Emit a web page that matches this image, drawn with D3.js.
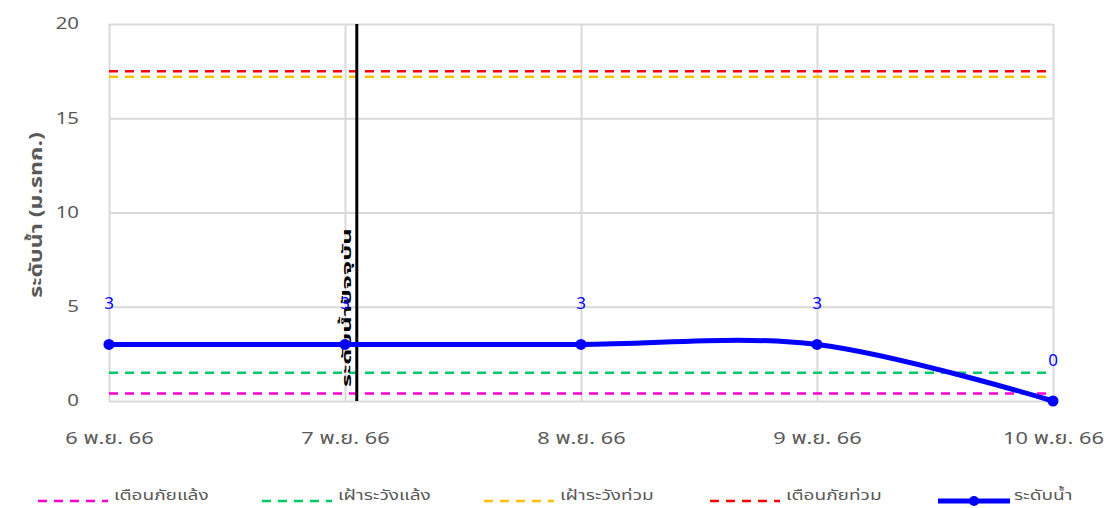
<!DOCTYPE html>
<html><head><meta charset="utf-8">
<script src="https://cdn.jsdelivr.net/npm/d3@7"></script>
<style>
body{margin:0;background:#fff}
svg{display:block}
text{font-family: Tahoma, "Noto Sans Thai", "Noto Sans Thai UI", "Noto Sans", "DejaVu Sans", sans-serif;}
</style>
</head><body>
<svg id="c" width="1107" height="508"></svg>
<script>
// ---- data ----
const dates = ["6 พ.ย. 66", "7 พ.ย. 66", "8 พ.ย. 66", "9 พ.ย. 66", "10 พ.ย. 66"];
const waterLevel = [3, 3, 3, 3, 0];
const waterLabels = ["3", "3", "3", "3", "0"];
const thresholdNames = ["เตือนภัยแล้ง", "เฝ้าระวังแล้ง", "เฝ้าระวังท่วม", "เตือนภัยท่วม"];
const thresholdValues = [0.4, 1.5, 17.2, 17.5];
const seriesName = "ระดับน้ำ";
const yTicks = [0, 5, 10, 15, 20];
const yTitle = "ระดับน้ำ (ม.รทก.)";
const currentIndex = 1.05;
const currentLabel = "ระดับน้ำปัจจุบัน";

// ---- styles ----
const thresholdColors = ["#ff00cc", "#00c864", "#ffc000", "#ff0000"];
const blue = "#0000ff";
const gray = "#595959";
const grid = "#d9d9d9";
const STRETCH = 1.28;

function stretch(sel, f) {
  sel.each(function () {
    const L = this.getComputedTextLength();
    d3.select(this).attr("textLength", L * f).attr("lengthAdjust", "spacingAndGlyphs");
  });
}

const svg = d3.select("#c");
const x = d3.scaleLinear().domain([0, dates.length - 1]).range([109, 1053]);
const y = d3.scaleLinear().domain([0, 20]).range([401, 24]);

// gridlines
const gh = d3.axisLeft(y).tickValues(yTicks).tickSize(-(x.range()[1] - x.range()[0])).tickFormat("");
svg.append("g").attr("transform", `translate(${x.range()[0]},0)`).call(gh)
  .call(g => g.select(".domain").remove())
  .call(g => g.selectAll("line").attr("stroke", grid).attr("stroke-width", 2));
const gv = d3.axisBottom(x).tickValues(d3.range(dates.length)).tickSize(-(y(0) - y(20))).tickFormat("");
svg.append("g").attr("transform", `translate(0,${y(0)})`).call(gv)
  .call(g => g.select(".domain").remove())
  .call(g => g.selectAll("line").attr("stroke", grid).attr("stroke-width", 2));

// y tick labels
const ya = d3.axisLeft(y).tickValues(yTicks).tickSize(0).tickPadding(0);
svg.append("g").attr("transform", `translate(79,0)`).call(ya)
  .call(g => g.select(".domain").remove())
  .call(g => g.selectAll("text").attr("fill", gray).attr("font-size", 17).attr("dy", "0.28em").call(stretch, 1.2));

// x tick labels
const xa = d3.axisBottom(x).tickValues(d3.range(dates.length)).tickFormat(i => dates[i]).tickSize(0).tickPadding(0);
svg.append("g").attr("transform", `translate(0,432)`).call(xa)
  .call(g => g.select(".domain").remove())
  .call(g => g.selectAll("text").attr("fill", gray).attr("font-size", 17).call(stretch, STRETCH));

// y title
svg.append("text").attr("transform", `translate(42,215) rotate(-90)`)
  .attr("text-anchor", "middle").attr("fill", gray).attr("font-size", 17).attr("font-weight", "bold")
  .text(yTitle).call(stretch, 1.36);

// threshold lines
svg.append("g").selectAll("line").data(thresholdValues).join("line")
  .attr("x1", x.range()[0]).attr("x2", x.range()[1])
  .attr("y1", d => y(d)).attr("y2", d => y(d))
  .attr("stroke", (d, i) => thresholdColors[i]).attr("stroke-width", 2.5)
  .attr("stroke-dasharray", "9,7");

// current date line
svg.append("line").attr("x1", x(currentIndex)).attr("x2", x(currentIndex))
  .attr("y1", y(20)).attr("y2", y(0)).attr("stroke", "#000").attr("stroke-width", 3);
svg.append("text").attr("transform", `translate(${x(currentIndex) - 6},${y(0) - 14}) rotate(-90)`)
  .attr("fill", "#000").attr("font-size", 13).attr("font-weight", "bold")
  .text(currentLabel).call(stretch, 1.95);

// water level line
const pts = waterLevel.map((v, i) => [x(i), y(v)]);
svg.append("path").attr("d", d3.line().curve(d3.curveCardinal.tension(0))(pts))
  .attr("fill", "none").attr("stroke", blue).attr("stroke-width", 5);
svg.append("g").selectAll("circle").data(pts).join("circle")
  .attr("cx", d => d[0]).attr("cy", d => d[1]).attr("r", 5.5).attr("fill", blue);
svg.append("g").selectAll("text").data(waterLevel).join("text")
  .attr("x", (d, i) => x(i)).attr("y", d => y(d) - 35)
  .attr("text-anchor", "middle").attr("fill", blue).attr("font-size", 17)
  .text((d, i) => waterLabels[i]);

// legend
const legendNames = thresholdNames.concat([seriesName]);
const legendX = [38, 262, 484, 710, 938];
const lg = svg.append("g");
legendNames.forEach((n, i) => {
  const g = lg.append("g").attr("transform", `translate(${legendX[i]},501)`);
  if (i < 4) {
    g.append("line").attr("x1", 0).attr("x2", 70).attr("stroke", thresholdColors[i])
      .attr("stroke-width", 2.5).attr("stroke-dasharray", "9,7");
  } else {
    g.append("line").attr("x1", 0).attr("x2", 72).attr("stroke", blue).attr("stroke-width", 5);
    g.append("circle").attr("cx", 36).attr("r", 5).attr("fill", blue);
  }
  g.append("text").attr("x", 76).attr("y", -5).attr("dy", "0.3em")
    .attr("fill", gray).attr("font-size", 14).text(n).call(stretch, 1.36);
});
</script>
</body></html>
